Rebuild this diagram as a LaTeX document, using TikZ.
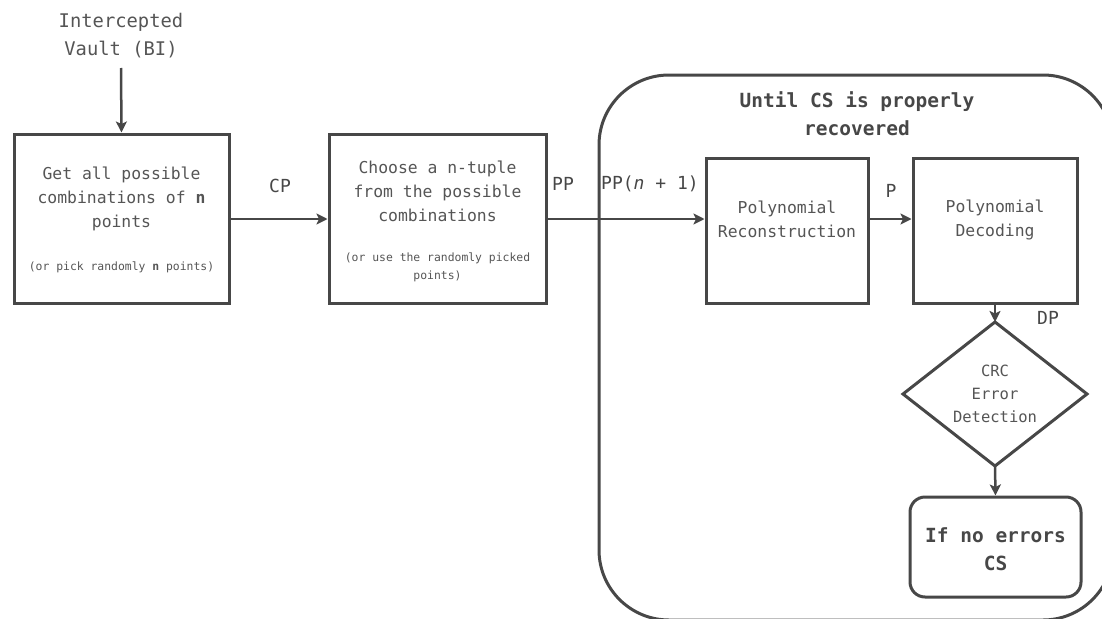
\documentclass[tikz,border=0pt]{standalone}
\usepackage{fontspec}
\newfontfamily\flowmono{DejaVu Sans Mono}
\usetikzlibrary{arrows.meta}
\definecolor{ink}{HTML}{474747}
\definecolor{txt}{HTML}{555555}
\tikzset{
  stepbox/.style={draw=ink, line width=3pt, inner sep=0pt},
  boxtext/.style={text=txt, align=center, inner sep=0pt, font=\flowmono\fontsize{16.4}{24}\selectfont},
  smalltext/.style={text=txt, align=center, inner sep=0pt, font=\flowmono\fontsize{11.4}{18}\selectfont},
  edgelabel/.style={text=ink, inner sep=0pt, font=\flowmono\fontsize{18}{22}\selectfont},
  titletext/.style={text=txt, align=center, inner sep=0pt, font=\flowmono\fontsize{18.8}{28}\selectfont},
  boldtext/.style={text=ink, align=center, inner sep=0pt, font=\flowmono\bfseries\fontsize{19.5}{28}\selectfont},
  flow/.style={draw=ink, line width=2.5pt, -{Stealth[length=11pt, width=11pt, inset=2.5pt]}},
}
\begin{document}
\begin{tikzpicture}[x=1pt, y=-1pt]
\useasboundingbox (0,0) rectangle (1102,618);
\clip (0,0) rectangle (1102,618);

% loop frame
\draw[ink, line width=3pt, rounded corners=70pt] (599,75) rectangle (1113,620);
\node[boldtext] (looptitle) at (857,114) {Until CS is properly\\recovered};

% input
\node[titletext] (vault) at (121,36) {Intercepted\\Vault (BI)};

% process boxes
\node[stepbox, minimum width=215pt, minimum height=169pt] (combine) at (121.5,218.5) {};
\node[boxtext] (combinetext) at (121.5,199) {Get all possible\\combinations of \textbf{n}\\points};
\node[smalltext] (combinenote) at (121.5,267) {(or pick randomly \textbf{n} points)};

\node[stepbox, minimum width=217pt, minimum height=169pt] (choose) at (437.5,218.5) {};
\node[boxtext] (choosetext) at (437.5,191) {Choose a n-tuple\\from the possible\\combinations};
\node[smalltext] (choosenote) at (437.5,267) {(or use the randomly picked\\points)};

\node[stepbox, minimum width=162pt, minimum height=145pt] (recon) at (787,230.5) {};
\node[boxtext] (recontext) at (787,219.5) {Polynomial\\Reconstruction};

\node[stepbox, minimum width=164pt, minimum height=145pt] (decode) at (995,230.5) {};
\node[boxtext] (decodetext) at (995,219.5) {Polynomial\\Decoding};

% decision
\coordinate (crc) at (995,394);
\draw[ink, line width=3pt, line join=miter]
  (903,394) coordinate (crcW) -- (995,322) coordinate (crcN) --
  (1087,394) coordinate (crcE) -- (995,466) coordinate (crcS) -- cycle;
\node[boxtext, font=\flowmono\fontsize{15.5}{23}\selectfont] (crctext) at (crc) {CRC\\Error\\Detection};

% result
\node[stepbox, rounded corners=15pt, minimum width=171pt, minimum height=100pt] (result) at (995.5,547) {};
\node[boldtext] (resulttext) at (995.5,549) {If no errors\\CS};

% connectors
\draw[flow] (vault.south |- 0,68) -- (combine.north);
\draw[flow] (combine.east |- 0,219) -- (choose.west |- 0,219);
\draw[flow] (choose.east |- 0,219) -- (recon.west |- 0,219);
\draw[flow] (recon.east |- 0,219) -- (decode.west |- 0,219);
\draw[flow] (decode.south) -- (crcN);
\draw[flow] (crcS) -- (result.north);

% edge labels
\node[edgelabel] (cp) at (280,186) {CP};
\node[edgelabel] (pp) at (563,184) {PP};
\node[edgelabel, anchor=west] (ppn) at (601,184) {PP(\textit{n} + 1)};
\node[edgelabel] (p) at (891,191) {P};
\node[edgelabel] (dp) at (1048,318) {DP};
\end{tikzpicture}
\end{document}
